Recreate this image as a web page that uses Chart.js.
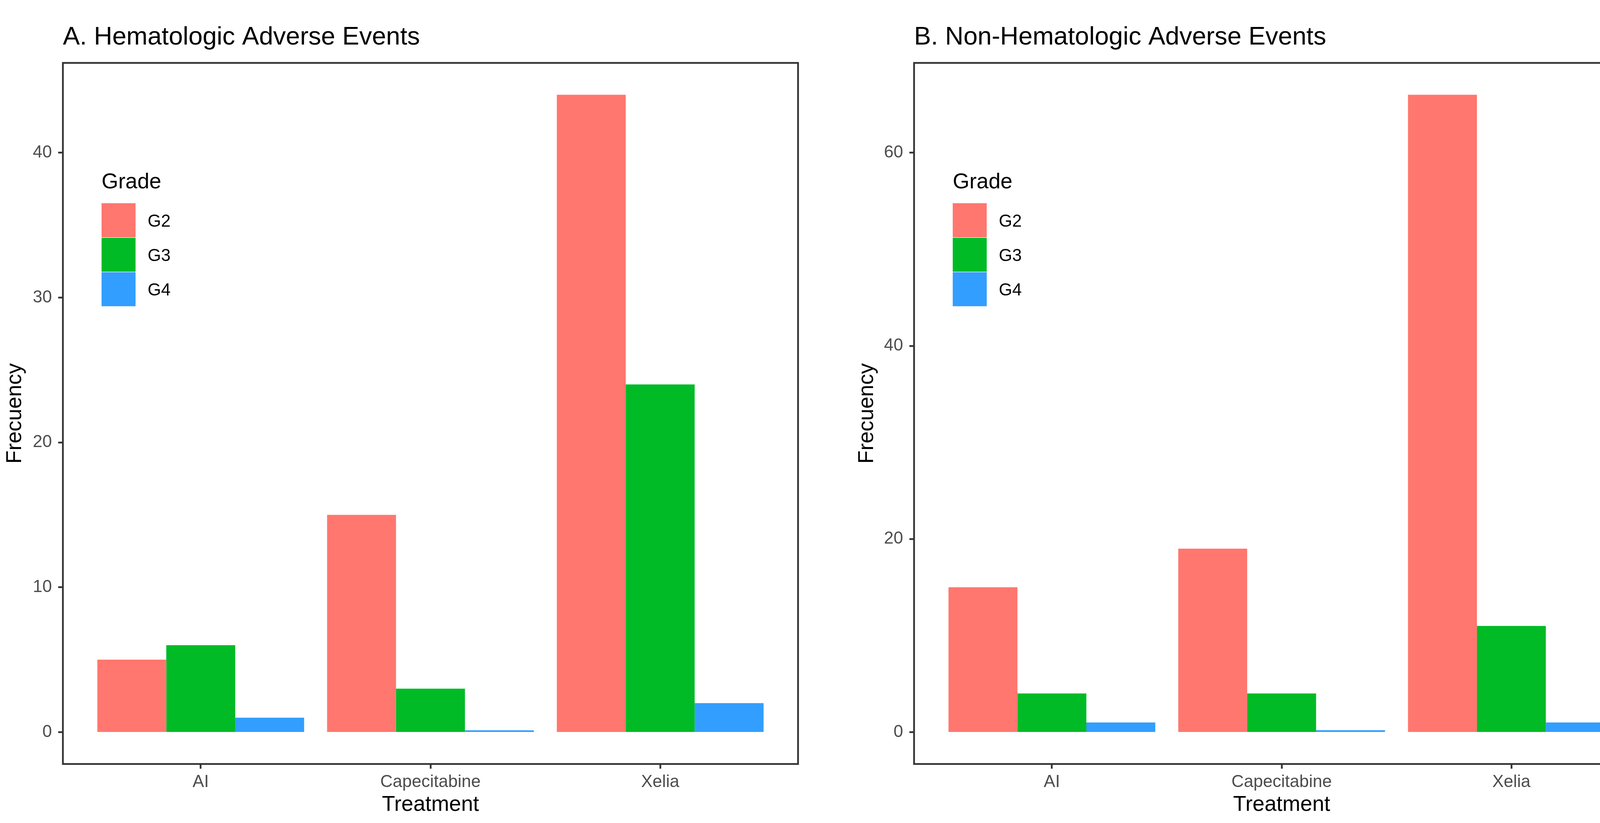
<!DOCTYPE html>
<html>
<head>
<meta charset="utf-8">
<script src="https://cdn.jsdelivr.net/npm/chart.js@4.4.1/dist/chart.umd.min.js"></script>
<style>
html,body{margin:0;padding:0;background:#ffffff;width:4248px;height:2106px;overflow:hidden}
.wrap{position:absolute;top:0;width:2124px;height:2106px}
#wrapA{left:0}
#wrapB{left:2124px}
canvas{display:block}
</style>
</head>
<body>
<div class="wrap" id="wrapA"><canvas id="chartA" width="2124" height="2106" style="width:2124px;height:2106px"></canvas></div>
<div class="wrap" id="wrapB"><canvas id="chartB" width="2124" height="2106" style="width:2124px;height:2106px"></canvas></div>
<script>
// ---------- data ----------
const categories = ['AI', 'Capecitabine', 'Xelia'];
const grades = ['G2', 'G3', 'G4'];
const gradeColors = ['#FF776F', '#00BB26', '#329EFF'];

const hemaG2 = [5, 15, 44];
const hemaG3 = [6, 3, 24];
const hemaG4 = [1, 0.13, 2];

const nonHemaG2 = [15, 19, 66];
const nonHemaG3 = [4, 4, 11];
const nonHemaG4 = [1, 0.2, 1];

const hemaTicks = [0, 10, 20, 30, 40];
const nonHemaTicks = [0, 20, 40, 60];

const titleA = 'A. Hematologic Adverse Events';
const titleB = 'B. Non-Hematologic Adverse Events';
const xTitle = 'Treatment';
const yTitle = 'Frecuency';
const legendTitle = 'Grade';

// ---------- style ----------
const FONT = "'Liberation Sans', Arial, Helvetica, sans-serif";
Chart.defaults.font.family = FONT;
const INK = '#333333';

const panelBorder = {
  id: 'panelBorder',
  afterDraw(chart) {
    const {ctx, chartArea: a} = chart;
    ctx.save();
    ctx.strokeStyle = INK;
    ctx.lineWidth = 4.5;
    ctx.strokeRect(a.left, a.top, a.right - a.left, a.bottom - a.top);
    ctx.restore();
  }
};

const insideLegend = {
  id: 'insideLegend',
  afterDraw(chart, args, opts) {
    const {ctx, chartArea: a} = chart;
    const x0 = a.left + opts.offsetX;
    ctx.save();
    ctx.textAlign = 'left';
    ctx.textBaseline = 'alphabetic';
    ctx.fillStyle = '#000000';
    ctx.font = '55px ' + FONT;
    ctx.fillText(opts.title, x0, a.top + opts.titleBaseline);
    chart.data.datasets.forEach((ds, i) => {
      const y = a.top + opts.keyTop + i * opts.keyStep;
      ctx.fillStyle = ds.backgroundColor;
      ctx.fillRect(x0, y, opts.keySize, opts.keySize);
      ctx.fillStyle = '#000000';
      ctx.font = '44px ' + FONT;
      ctx.fillText(ds.label, x0 + opts.labelOffset, y + opts.keySize / 2 + 16);
    });
    ctx.restore();
  }
};

function makeChart(id, title, series, tickVals, geo) {
  const maxVal = Math.max(...series.flat());
  const datasets = grades.map((g, gi) => ({
    label: g,
    data: categories.map((c, ci) => ({x: ci, y: series[gi][ci]})),
    backgroundColor: gradeColors[gi],
    borderWidth: 0,
    categoryPercentage: 0.9,
    barPercentage: 1.0
  }));
  return new Chart(document.getElementById(id), {
    type: 'bar',
    data: {datasets},
    plugins: [panelBorder, insideLegend],
    options: {
      responsive: false,
      maintainAspectRatio: false,
      animation: false,
      events: [],
      devicePixelRatio: 1,
      layout: {padding: {left: 0, top: 0, right: geo.rightPad, bottom: 0}},
      plugins: {
        legend: {display: false},
        tooltip: {enabled: false},
        title: {
          display: true, text: title, align: 'start', fullSize: false,
          color: '#000000', font: {size: 65, weight: 'normal'},
          padding: {top: 57.5, bottom: 25.5}
        },
        insideLegend: {
          title: legendTitle, offsetX: 99, titleBaseline: 321,
          keyTop: 359, keyStep: 88.3, keySize: 87, labelOffset: 118
        }
      },
      scales: {
        x: {
          type: 'linear',
          offset: false,
          min: -0.6,
          max: categories.length - 1 + 0.6,
          afterBuildTicks: s => { s.ticks = categories.map((c, i) => ({value: i})); },
          afterFit: s => { s.height = 151; },
          ticks: {
            autoSkip: false, maxRotation: 0, minRotation: 0,
            font: {size: 44}, color: '#4D4D4D', padding: 8,
            callback: v => categories[v]
          },
          grid: {display: true, offset: false, drawOnChartArea: false, drawTicks: true,
                 tickLength: 12, tickWidth: 4.5, tickColor: INK},
          border: {display: false},
          title: {display: true, text: xTitle, color: '#000000', font: {size: 55},
                  padding: {top: 0, bottom: 13}}
        },
        y: {
          type: 'linear',
          min: -0.05 * maxVal,
          max: 1.05 * maxVal,
          afterBuildTicks: s => { s.ticks = tickVals.map(v => ({value: v})); },
          afterFit: s => { s.width = geo.yWidth; },
          ticks: {font: {size: 44}, color: '#4D4D4D', padding: 16},
          grid: {display: true, drawOnChartArea: false, drawTicks: true,
                 tickLength: 12, tickWidth: 4.5, tickColor: INK},
          border: {display: false},
          title: {display: true, text: yTitle, color: '#000000', font: {size: 55},
                  padding: {top: geo.yTitlePad, bottom: 0}}
        }
      }
    }
  });
}

makeChart('chartA', titleA, [hemaG2, hemaG3, hemaG4], hemaTicks,
          {rightPad: 81, yWidth: 161, yTitlePad: 6});
makeChart('chartB', titleB, [nonHemaG2, nonHemaG3, nonHemaG4], nonHemaTicks,
          {rightPad: 26, yWidth: 216, yTitlePad: 63});
</script>
</body>
</html>
